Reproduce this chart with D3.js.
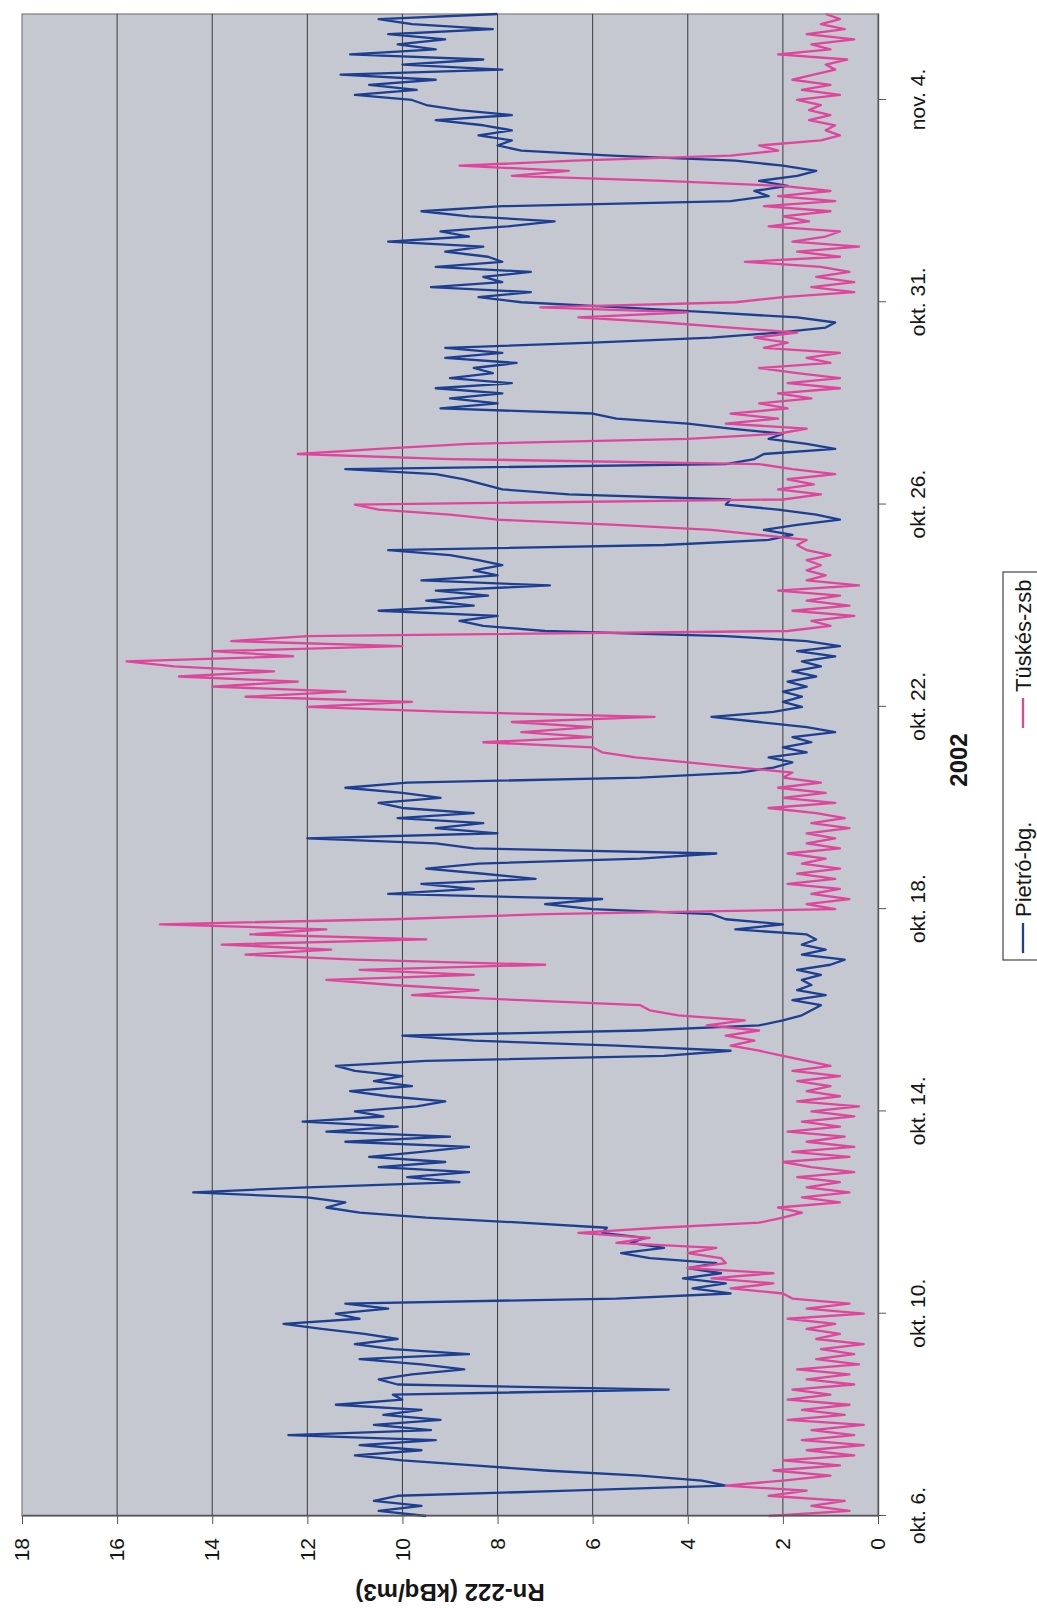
<!DOCTYPE html>
<html>
<head>
<meta charset="utf-8">
<script src="https://cdn.jsdelivr.net/npm/d3@7"></script>
<style>
  body { margin: 0; background: #ffffff; }
  svg text { font-family: "Liberation Sans", Arial, sans-serif; fill: #161616; }
</style>
</head>
<body>
<svg id="chart" width="1037" height="1608"></svg>
<script>
// ---------------- data ----------------
const dateLabels = ["okt. 6.", "okt. 10.", "okt. 14.", "okt. 18.", "okt. 22.", "okt. 26.", "okt. 31.", "nov. 4."];
const dateTickIndex = [0, 40, 80, 120, 160, 200, 240, 280];
const valueTicks = [0, 2, 4, 6, 8, 10, 12, 14, 16, 18];
const seriesNames = ["Pietró-bg.", "Tüskés-zsb"];
const xTitle = "2002";
const yTitle = "Rn-222 (kBq/m3)";

const pietroBg = [
  9.5,10.5,9.6,10.6,10.1,6.5,3.2,3.7,5.0,7.0,
  8.5,10.0,11.0,9.6,10.9,9.3,12.4,9.4,10.6,9.2,
  10.4,9.6,11.4,10.0,10.2,4.4,10.1,10.5,9.8,8.7,
  9.6,10.9,8.6,10.2,11.0,10.1,10.8,11.7,12.5,10.9,
  11.4,10.3,11.2,5.5,3.1,3.9,3.2,4.1,3.3,4.0,
  3.4,4.8,5.4,4.5,5.2,4.9,5.8,5.7,7.5,9.5,
  10.9,11.6,11.2,12.0,14.4,12.0,8.8,9.9,8.6,10.5,
  9.1,10.7,9.6,8.6,11.2,9.0,11.6,10.1,12.1,10.4,
  11.0,9.7,9.1,10.3,11.1,9.8,10.6,10.0,11.0,11.4,
  9.5,4.5,3.1,5.5,8.5,10.0,5.0,2.5,2.0,1.6,
  1.4,1.2,1.8,1.1,1.7,1.4,1.6,1.2,1.7,1.0,
  0.7,1.6,1.1,1.6,1.3,1.5,3.0,2.0,3.2,3.5,
  6.0,7.0,5.8,10.3,8.5,9.6,7.2,8.3,9.5,8.4,
  5.0,3.4,8.5,9.3,12.0,8.0,9.3,8.3,10.1,8.5,
  10.0,10.5,9.2,10.0,11.2,9.9,5.0,2.9,2.2,1.8,
  2.3,1.5,2.0,1.4,1.8,0.9,1.5,2.5,3.5,2.2,
  1.6,2.0,1.6,2.0,1.5,1.9,1.3,1.8,1.2,1.6,
  0.9,1.7,0.8,1.5,3.2,7.0,8.3,8.8,8.0,10.5,
  8.5,9.5,8.2,9.3,6.9,9.6,8.0,8.5,7.9,8.4,
  9.0,10.3,4.5,2.3,1.8,2.4,1.7,0.8,1.3,2.1,
  3.2,3.1,6.5,7.9,8.3,8.7,9.3,11.2,3.2,2.6,
  2.4,0.9,1.5,2.3,2.0,3.1,4.0,5.5,6.0,9.2,
  8.0,9.0,7.9,9.3,7.7,9.0,8.1,8.5,7.6,9.1,
  7.9,9.1,6.0,3.5,2.1,1.1,0.9,1.7,3.5,5.4,
  7.5,8.4,7.3,9.4,7.9,8.3,7.3,9.3,7.9,8.2,
  9.1,8.3,10.3,8.6,9.2,7.8,6.8,8.6,9.6,7.9,
  3.1,2.3,2.6,1.9,2.5,1.7,1.3,2.0,3.0,5.6,
  7.5,8.0,7.7,8.4,7.7,8.3,9.3,7.7,8.8,9.5,
  9.8,11.0,9.7,10.7,9.3,11.3,7.9,10.0,8.3,11.1,
  9.3,10.1,9.1,10.3,8.1,9.8,10.5,8.0
];

const tuskesZsb = [
  2.3,0.6,1.4,0.7,2.3,1.5,3.2,2.0,1.0,2.2,
  0.8,2.0,0.5,1.5,0.3,1.6,0.5,1.4,0.3,1.9,
  0.7,1.6,0.6,1.9,1.0,1.8,0.5,1.5,0.6,1.7,
  0.4,1.3,0.5,1.2,0.3,1.3,0.8,1.5,0.9,1.9,
  0.3,1.5,0.6,1.8,2.0,3.1,2.2,3.5,2.2,4.0,
  3.2,3.3,4.0,3.4,5.5,4.8,6.3,4.6,2.5,2.0,
  1.6,2.1,0.8,1.6,0.6,1.5,0.8,1.7,0.5,1.4,
  2.0,0.6,1.8,0.5,1.5,0.7,1.9,0.8,1.6,0.5,
  1.4,0.4,1.7,0.8,1.5,1.0,1.7,0.8,1.8,1.0,
  1.5,2.0,2.5,3.1,2.6,3.2,2.5,3.6,2.8,4.2,
  4.8,5.0,7.5,9.8,8.4,10.2,11.6,8.5,10.9,7.0,
  11.0,13.3,11.5,13.8,9.5,13.2,11.6,15.1,10.2,7.0,
  0.9,1.5,0.6,1.4,0.8,1.9,0.9,1.7,0.8,1.6,
  1.1,1.9,0.8,1.5,0.9,1.5,0.6,1.4,0.7,1.3,
  2.3,0.9,2.0,1.1,2.1,1.2,2.0,1.8,2.9,4.0,
  5.1,5.8,6.0,8.3,6.0,7.5,6.0,7.7,4.7,9.0,
  12.0,9.8,13.3,11.2,14.0,12.2,14.7,12.7,14.8,15.8,
  12.3,14.0,10.0,13.6,12.0,1.9,1.0,1.4,0.5,1.8,
  0.6,1.5,0.8,2.1,0.4,1.5,1.1,1.5,1.2,1.5,
  1.0,1.5,1.7,1.5,2.5,3.5,5.5,8.0,9.0,10.5,
  11.0,2.0,1.2,2.1,1.35,1.9,0.9,1.8,2.5,9.0,
  12.2,10.5,8.6,4.0,2.1,1.5,3.2,2.1,3.1,1.9,
  2.5,1.4,2.1,0.8,1.9,0.8,1.7,2.5,1.0,1.5,
  0.8,2.4,1.9,2.6,1.7,3.1,4.5,6.3,4.0,7.1,
  3.0,2.0,0.5,1.4,0.5,1.3,0.6,1.2,2.8,0.8,
  1.7,0.4,1.8,1.1,0.8,2.3,1.45,2.0,1.0,2.4,
  0.9,2.1,1.0,2.0,4.5,7.7,6.5,8.8,6.4,3.1,
  2.1,2.5,1.2,0.8,1.1,0.9,1.45,1.0,1.45,1.2,
  1.7,0.8,1.6,1.0,1.8,1.35,0.9,1.1,0.65,2.1,
  1.0,1.4,0.5,1.5,0.7,1.2,0.8,1.1
];

const seriesColors = ["#1d3f91", "#e0459c"];

// ---------------- layout (chart drawn unrotated, then turned -90deg) ----------------
const W = 1608, H = 1037;
const plot = { left: 92, right: 1594, top: 22, bottom: 878 };

const svg = d3.select("#chart");
svg.append("rect").attr("width", 1037).attr("height", 1608).attr("fill", "#ffffff");

const g = svg.append("g").attr("transform", `translate(0,${1608}) rotate(-90)`);

const x = d3.scaleLinear().domain([0, pietroBg.length - 1]).range([plot.left, plot.right]);
const y = d3.scaleLinear().domain([0, 18]).range([plot.bottom, plot.top]);

// plot background
g.append("rect")
  .attr("x", plot.left).attr("y", plot.top)
  .attr("width", plot.right - plot.left).attr("height", plot.bottom - plot.top)
  .attr("fill", "#c6c8d1").attr("stroke", "#7d7d7d").attr("stroke-width", 1.2);

// horizontal gridlines
g.append("g").selectAll("line")
  .data(valueTicks.filter(v => v > 0 && v < 18))
  .join("line")
  .attr("x1", plot.left).attr("x2", plot.right)
  .attr("y1", d => y(d)).attr("y2", d => y(d))
  .attr("stroke", "#3a3a3a").attr("stroke-width", 1);

// series lines
const line = d3.line().x((d, i) => x(i)).y(d => y(d));
[pietroBg, tuskesZsb].forEach((s, k) => {
  g.append("path")
    .datum(s)
    .attr("d", line)
    .attr("fill", "none")
    .attr("stroke", seriesColors[k])
    .attr("stroke-width", 2.3)
    .attr("stroke-linejoin", "round");
});

// x axis (dates)
const xAxis = d3.axisBottom(x)
  .tickValues(dateTickIndex)
  .tickFormat((d, i) => dateLabels[i])
  .tickSize(8).tickPadding(24).tickSizeOuter(0);
const gx = g.append("g").attr("transform", `translate(0,${plot.bottom})`).call(xAxis);
gx.select(".domain").attr("stroke", "#555").attr("stroke-width", 1.4);
gx.selectAll(".tick line").attr("stroke", "#555");
gx.selectAll("text").attr("font-size", 21).attr("fill", "#161616");

// y axis (values)
const yAxis = d3.axisLeft(y)
  .tickValues(valueTicks)
  .tickFormat(d3.format("d"))
  .tickSize(8).tickPadding(14).tickSizeOuter(0);
const gy = g.append("g").attr("transform", `translate(${plot.left},0)`).call(yAxis);
gy.select(".domain").attr("stroke", "#555").attr("stroke-width", 1.4);
gy.selectAll(".tick line").attr("stroke", "#555");
gy.selectAll("text").attr("font-size", 21).attr("fill", "#161616");

// axis titles
g.append("text")
  .attr("x", 848).attr("y", 967)
  .attr("text-anchor", "middle")
  .attr("font-size", 24).attr("font-weight", "bold")
  .text(xTitle);

g.append("text")
  .attr("transform", `translate(24,${(plot.top + plot.bottom) / 2}) rotate(-90)`)
  .attr("text-anchor", "middle")
  .attr("font-size", 24).attr("font-weight", "bold")
  .text(yTitle);

// legend
const lg = g.append("g");
lg.append("rect")
  .attr("x", 648).attr("y", 1003).attr("width", 388).attr("height", 70)
  .attr("fill", "#ffffff").attr("stroke", "#444").attr("stroke-width", 1.2);
const legendItems = [
  { name: seriesNames[0], color: seriesColors[0], x0: 655 },
  { name: seriesNames[1], color: seriesColors[1], x0: 880 }
];
legendItems.forEach(it => {
  lg.append("line")
    .attr("x1", it.x0).attr("x2", it.x0 + 30)
    .attr("y1", 1023).attr("y2", 1023)
    .attr("stroke", it.color).attr("stroke-width", 2.3);
  lg.append("text")
    .attr("x", it.x0 + 36).attr("y", 1031)
    .attr("font-size", 22)
    .text(it.name);
});
</script>
</body>
</html>
